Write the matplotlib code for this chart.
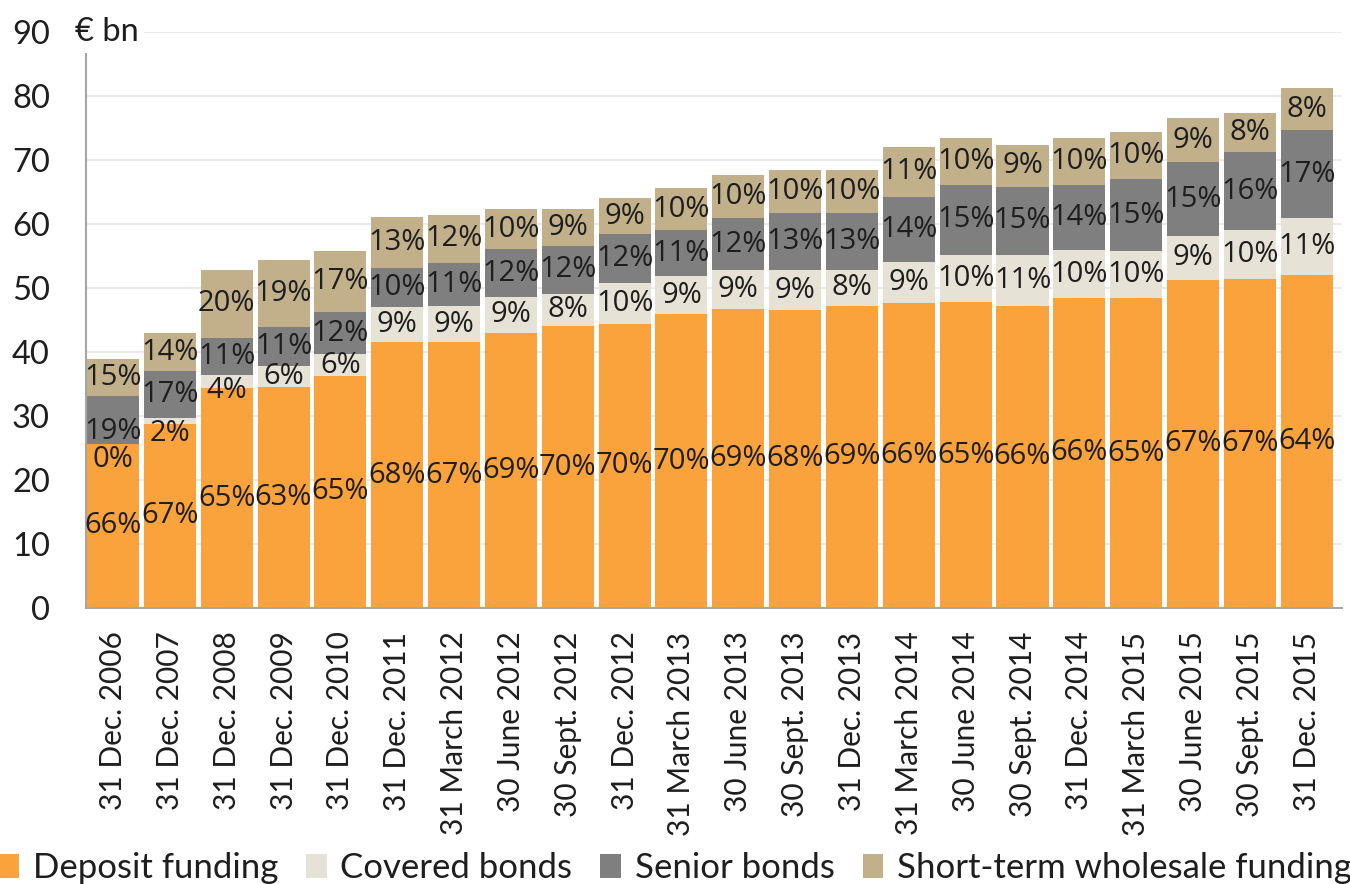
import matplotlib
matplotlib.use("Agg")
import matplotlib.pyplot as plt
from matplotlib.patches import Patch
import numpy as np

# --- data -------------------------------------------------------------
categories = [
    "31 Dec. 2006", "31 Dec. 2007", "31 Dec. 2008", "31 Dec. 2009",
    "31 Dec. 2010", "31 Dec. 2011", "31 March 2012", "30 June 2012",
    "30 Sept. 2012", "31 Dec. 2012", "31 March 2013", "30 June 2013",
    "30 Sept. 2013", "31 Dec. 2013", "31 March 2014", "30 June 2014",
    "30 Sept. 2014", "31 Dec. 2014", "31 March 2015", "30 June 2015",
    "30 Sept. 2015", "31 Dec. 2015",
]

# total funding, EUR bn
totals = [38.9, 43.0, 52.8, 54.3, 55.8, 61.1, 61.4, 62.3, 62.3, 64.1, 65.6,
          67.7, 68.5, 68.5, 72.1, 73.5, 72.3, 73.5, 74.4, 76.5, 77.4, 81.2]

# share of each funding source in total funding, %
deposit_share = [66, 67, 65, 63, 65, 68, 67, 69, 70, 70, 70,
                 69, 68, 69, 66, 65, 66, 66, 65, 67, 67, 64]
covered_share = [0, 2, 4, 6, 6, 9, 9, 9, 8, 10, 9,
                 9, 9, 8, 9, 10, 11, 10, 10, 9, 10, 11]
senior_share = [19, 17, 11, 11, 12, 10, 11, 12, 12, 12, 11,
                12, 13, 13, 14, 15, 15, 14, 15, 15, 16, 17]
short_term_share = [15, 14, 20, 19, 17, 13, 12, 10, 9, 9, 10,
                    10, 10, 10, 11, 10, 9, 10, 10, 9, 8, 8]

series_names = ["Deposit funding", "Covered bonds", "Senior bonds",
                "Short-term wholesale funding"]

# --- style ------------------------------------------------------------
plt.rcParams['font.family'] = ['Lato', 'DejaVu Sans']
colors = ["#FAA23B", "#E7E2D6", "#7F7F7F", "#C2B08B"]
text_color = "#1E1E1E"

# small vertical shifts (data units) for labels of thin segments
label_nudge = {(0, 1): -2.5, (0, 2): -1.8, (1, 1): -1.9, (2, 1): -1.4}

fig = plt.figure(figsize=(13.5, 8.84), dpi=100)
ax = fig.add_axes([86 / 1350, 1 - 608 / 884, (1342 - 86) / 1350, (608 - 32) / 884])

totals_arr = np.array(totals, dtype=float)
shares = np.array([deposit_share, covered_share, senior_share, short_term_share],
                  dtype=float)
share_sum = shares.sum(axis=0)
x = np.arange(len(categories))
bottom = np.zeros(len(categories))

for s, (name, color) in enumerate(zip(series_names, colors)):
    heights = totals_arr * shares[s] / share_sum
    ax.bar(x, heights, width=0.916, bottom=bottom, color=color,
           label=name, zorder=2, linewidth=0)
    for i in range(len(categories)):
        y = bottom[i] + heights[i] / 2 + label_nudge.get((i, s), 0.0)
        ax.text(x[i], y, f"{int(shares[s][i])}%", ha="center", va="center",
                fontsize=21, color=text_color, zorder=3,
                family=["Open Sans", "DejaVu Sans"])
    bottom += heights

ax.set_xlim(-0.475, 21.62)
ax.set_ylim(0, 90)
ax.set_yticks(range(0, 91, 10))
ax.set_xticks(x)
ax.set_xticklabels(categories, rotation=90)
ax.yaxis.grid(True, color="#E6E6E6", linewidth=1.2, zorder=0)
ax.set_axisbelow(True)

for side in ("top", "right"):
    ax.spines[side].set_visible(False)
ax.spines["left"].set_color("#A6A6A6")
ax.spines["left"].set_linewidth(1.5)
ax.spines["left"].set_bounds(0, 86.7)
ax.spines["bottom"].set_color("#A6A6A6")
ax.spines["bottom"].set_linewidth(1.5)

ax.tick_params(axis="y", length=0, pad=26, labelsize=23.5, labelcolor=text_color)
ax.tick_params(axis="x", length=0, pad=17, labelsize=21.5, labelcolor=text_color)

fig.text(75 / 1350, 1 - 32 / 884, "€ bn", fontsize=23.5, ha="left", va="center",
         color=text_color,
         bbox=dict(facecolor="white", edgecolor="none", pad=4))

handles = [Patch(facecolor=c, edgecolor="none", label=n)
           for n, c in zip(series_names, colors)]
fig.legend(handles=handles, loc="center", bbox_to_anchor=(0.5, 1 - 868 / 884),
           ncol=4, frameon=False, fontsize=25, handlelength=0.6,
           handleheight=0.7, handletextpad=0.4, columnspacing=0.8,
           borderpad=0, borderaxespad=0, labelcolor=text_color)

fig.savefig("out.png", dpi=100, facecolor="white")
